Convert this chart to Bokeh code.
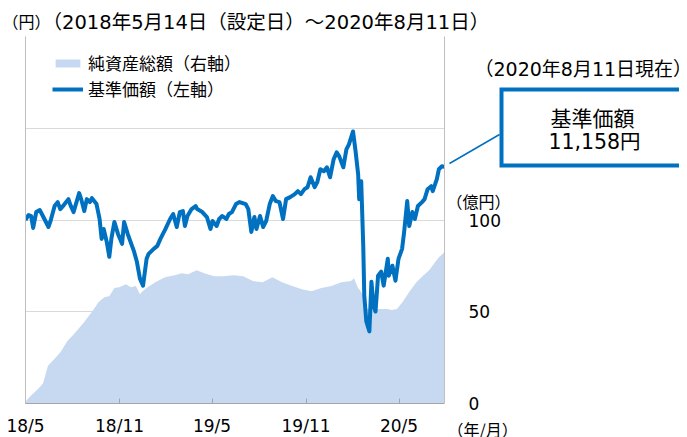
import pandas as pd
from bokeh.plotting import figure
from bokeh.layouts import column
from bokeh.models import (Range1d, LinearAxis, FixedTicker, NumeralTickFormatter,
                          Legend, LegendItem, Label, Arrow)
from bokeh.embed import file_html
from bokeh.resources import INLINE

# ---------------- data ----------------
nav_dates = [
    "2018-05-14", "2018-05-20", "2018-05-25", "2018-05-29", "2018-06-04", "2018-06-11",
    "2018-06-17", "2018-06-28", "2018-07-02", "2018-07-10", "2018-07-16", "2018-07-21",
    "2018-07-28", "2018-08-06", "2018-08-10", "2018-08-16", "2018-08-27", "2018-08-31",
    "2018-09-06", "2018-09-11", "2018-09-17", "2018-09-21", "2018-09-30", "2018-10-06",
    "2018-10-10", "2018-10-14", "2018-10-20", "2018-10-25", "2018-10-29", "2018-11-04",
    "2018-11-11", "2018-11-19", "2018-11-23", "2018-11-30", "2018-12-07", "2018-12-12",
    "2018-12-18", "2018-12-24", "2018-12-30", "2019-01-06", "2019-01-10", "2019-01-18",
    "2019-01-27", "2019-02-02", "2019-02-12", "2019-02-21", "2019-02-27", "2019-03-06",
    "2019-03-12", "2019-03-18", "2019-03-22", "2019-03-27", "2019-04-04", "2019-04-12",
    "2019-04-15", "2019-04-25", "2019-05-04", "2019-05-11", "2019-05-15", "2019-05-23",
    "2019-05-28", "2019-06-03", "2019-06-11", "2019-06-16", "2019-06-22", "2019-06-30",
    "2019-07-07", "2019-07-19", "2019-07-24", "2019-07-30", "2019-08-05", "2019-08-09",
    "2019-08-16", "2019-08-22", "2019-08-28", "2019-09-04", "2019-09-10", "2019-09-16",
    "2019-09-23", "2019-09-30", "2019-10-06", "2019-10-14", "2019-10-23", "2019-10-29",
    "2019-11-04", "2019-11-11", "2019-11-17", "2019-11-23", "2019-12-01", "2019-12-06",
    "2019-12-12", "2019-12-19", "2019-12-25", "2019-12-31", "2020-01-07", "2020-01-13",
    "2020-01-18", "2020-01-26", "2020-02-01", "2020-02-06", "2020-02-14", "2020-02-19",
    "2020-02-24", "2020-02-26", "2020-03-01", "2020-03-05", "2020-03-07", "2020-03-11",
    "2020-03-17", "2020-03-21", "2020-03-25", "2020-03-29", "2020-04-03", "2020-04-09",
    "2020-04-14", "2020-04-22", "2020-04-24", "2020-05-01", "2020-05-07", "2020-05-13",
    "2020-05-20", "2020-05-24", "2020-05-30", "2020-06-03", "2020-06-09", "2020-06-14",
    "2020-06-20", "2020-06-28", "2020-07-03", "2020-07-09", "2020-07-16", "2020-07-19",
    "2020-07-27", "2020-07-31", "2020-08-06", "2020-08-11",
]
nav_values = [
    10000, 10108, 10087, 9827, 10173, 10217,
    10087, 9848, 9978, 10304, 10390, 10238,
    10325, 10455, 10325, 10173, 10585, 10455,
    10195, 10455, 10390, 10477, 10347, 10022,
    9588, 9805, 9523, 9198, 9588, 9957,
    9696, 9480, 9957, 9696, 9480, 9328,
    9089, 8721, 8569, 9154, 9263, 9350,
    9436, 9588, 9805, 10022, 10130, 9848,
    10173, 10195, 9870, 10087, 10238, 10304,
    10238, 10173, 10065, 9805, 9978, 9870,
    10022, 10087, 10022, 10130, 10173, 10347,
    10390, 10347, 10238, 9740, 10065, 9805,
    10087, 9848, 9978, 10347, 10520, 10412,
    10390, 10022, 10455, 10499, 10564, 10629,
    10564, 10672, 10715, 10932, 10715, 10824,
    11106, 11062, 11149, 10932, 11322, 11474,
    11388, 11149, 11539, 11648, 11930, 11496,
    10997, 10455, 10846, 9436, 8352, 7789,
    7572, 8656, 8136, 8005, 8786, 8873,
    8569, 9154, 8786, 9003, 8677, 9154,
    9371, 9740, 10412, 9870, 10173, 10022,
    10304, 10390, 10455, 10672, 10737, 10629,
    10889, 11106, 11171, 11158,
]

aum_dates = [
    "2018-05-14", "2018-05-25", "2018-06-08", "2018-06-17", "2018-06-27", "2018-07-10",
    "2018-07-22", "2018-08-04", "2018-08-17", "2018-09-06", "2018-09-25", "2018-10-04",
    "2018-10-16", "2018-10-25", "2018-11-04", "2018-11-13", "2018-11-27", "2018-12-06",
    "2018-12-16", "2018-12-24", "2018-12-29", "2019-01-08", "2019-01-23", "2019-02-11",
    "2019-03-02", "2019-03-16", "2019-03-28", "2019-04-14", "2019-04-29", "2019-05-18",
    "2019-06-06", "2019-06-25", "2019-07-14", "2019-08-02", "2019-08-21", "2019-09-09",
    "2019-09-28", "2019-10-18", "2019-11-06", "2019-11-25", "2019-12-14", "2020-01-03",
    "2020-01-22", "2020-02-10", "2020-02-16", "2020-02-23", "2020-02-29", "2020-03-06",
    "2020-03-13", "2020-04-03", "2020-04-21", "2020-04-30", "2020-05-10", "2020-05-21",
    "2020-06-04", "2020-06-17", "2020-06-29", "2020-07-12", "2020-07-22", "2020-07-31",
    "2020-08-11",
]
aum_values = [
    1.1, 4.3, 8.1, 10.8, 20.6, 24.4,
    28.2, 34.1, 37.9, 44.4, 51.5, 55.3,
    58.0, 58.5, 62.9, 63.4, 65.0, 63.4,
    64.0, 59.6, 61.2, 63.4, 66.1, 68.8,
    69.9, 71.0, 70.5, 72.6, 71.0, 69.4,
    69.4, 69.9, 69.4, 66.7, 66.1, 68.8,
    66.1, 64.0, 62.3, 61.2, 62.9, 64.0,
    66.1, 66.7, 68.3, 63.4, 61.2, 58.0,
    51.5, 51.5, 51.5, 50.9, 51.5, 55.3,
    61.2, 66.1, 69.4, 72.6, 76.4, 79.7,
    82.4,
]

start_date = "2018-05-14"
end_date = "2020-08-11"
x_tick_dates = ["2018-05-14", "2018-11-14", "2019-05-14", "2019-11-14", "2020-05-14"]
x_tick_labels = ["18/5", "18/11", "19/5", "19/11", "20/5"]
left_ticks = [6000, 8000, 10000, 12000, 14000]
right_ticks = [0, 50, 100]

# ---------------- styling / layout ----------------
LINE = "#0070C0"
AREA = "#C6D9F0"
GRID = "#D9D9D9"
AXIS = "#BFBFBF"
FONT = "DejaVu Sans, Noto Sans CJK JP"
CJK = "Noto Sans CJK JP"

W, H = 742, 438          # canvas size (left part is pushed off-page like the reference crop)
BL, BR, BT = 82, 235, 36
FRAME_H = 369
BB = H - BT - FRAME_H


def ms(d):
    return int(pd.Timestamp(d).timestamp() * 1000)


X0, X1 = ms(start_date), ms(end_date)
Y0, Y1 = left_ticks[0], left_ticks[-1]

fig = figure(width=W, height=H, x_axis_type="datetime",
             output_backend="svg", toolbar_location=None,
             x_range=Range1d(X0, X1), y_range=Range1d(Y0, Y1),
             min_border_left=BL, min_border_right=BR,
             min_border_top=BT, min_border_bottom=BB,
             styles={"min-width": f"{W}px"})
fig.outline_line_color = None
fig.background_fill_color = "white"
fig.border_fill_color = "white"
fig.extra_y_ranges = {"right": Range1d(0, 200)}

area = fig.varea(x=pd.to_datetime(aum_dates), y1=0, y2=aum_values,
                 y_range_name="right", fill_color=AREA, fill_alpha=1.0)
line = fig.line(x=pd.to_datetime(nav_dates), y=nav_values,
                line_color=LINE, line_width=4, line_join="round")

xa = fig.xaxis[0]
xa.ticker = FixedTicker(ticks=[ms(d) for d in x_tick_dates])
xa.major_label_overrides = {ms(d): t for d, t in zip(x_tick_dates, x_tick_labels)}
xa.axis_line_color = "#A6A6A6"
xa.major_tick_line_color = "#A6A6A6"
xa.major_tick_in = 5
xa.major_tick_out = 0
xa.minor_tick_line_color = None
xa.major_label_standoff = 12
xa.major_label_text_font = FONT
xa.major_label_text_font_size = "17px"
xa.major_label_text_color = "black"

ya = fig.yaxis[0]
ya.ticker = FixedTicker(ticks=left_ticks)
ya.formatter = NumeralTickFormatter(format="0,0")
ya.axis_line_color = AXIS
ya.major_tick_line_color = None
ya.minor_tick_line_color = None
ya.major_label_standoff = 20
ya.major_label_text_font = FONT
ya.major_label_text_font_size = "17px"
ya.major_label_text_color = "black"

ra = LinearAxis(y_range_name="right", ticker=FixedTicker(ticks=right_ticks))
ra.axis_line_color = AXIS
ra.major_tick_line_color = None
ra.minor_tick_line_color = None
ra.major_label_standoff = 18
ra.major_label_text_font = FONT
ra.major_label_text_font_size = "17px"
ra.major_label_text_color = "black"
fig.add_layout(ra, "right")

fig.xgrid.grid_line_color = None
fig.ygrid.ticker = FixedTicker(ticks=left_ticks)
fig.ygrid.grid_line_color = GRID
fig.ygrid.grid_line_width = 1

legend = Legend(items=[LegendItem(label="純資産総額（右軸）", renderers=[area]),
                       LegendItem(label="基準価額（左軸）", renderers=[line])],
                location=(27, 302), margin=0, padding=0, spacing=1,
                glyph_width=31, glyph_height=10, label_height=20, label_standoff=5,
                label_text_font=CJK, label_text_font_size="17px",
                label_text_color="black",
                border_line_color=None, background_fill_alpha=0)
fig.add_layout(legend)

# ---------- transparent overlay that carries the free-floating texts ----------
# (annotations inside a Bokeh frame are clipped, so the notes live on a second,
#  full-canvas frame laid over the chart; its units are canvas pixels)
ov = figure(width=W, height=H, output_backend="svg", toolbar_location=None,
            x_range=Range1d(0, W), y_range=Range1d(H, 0),
            x_axis_location=None, y_axis_location=None,
            min_border=0, min_border_left=0, min_border_right=0,
            min_border_top=0, min_border_bottom=0,
            styles={"margin-top": f"-{H}px", "min-width": f"{W}px"})
ov.outline_line_color = None
ov.background_fill_alpha = 0
ov.border_fill_alpha = 0
ov.grid.visible = False
for f in (fig, ov):
    if hasattr(f, "frame_align"):
        f.frame_align = False
OFF = 55  # canvas x = page x + OFF


def note(x, y, text, font, size, align="left"):
    ov.add_layout(Label(x=x + OFF, y=y, text=text, text_font=font,
                        text_font_size=size, text_baseline="middle",
                        text_align=align, text_color="black"))


note(10, 20, "（円）", CJK, "16px")
note(50, 22, "（2018年5月14日（設定日）～2020年8月11日）", FONT, "19.5px")
note(486, 200, "（億円）", CJK, "16px", "center")
note(455, 428, "（年/月）", CJK, "16px")
note(482, 68, "（2020年8月11日現在）", FONT, "19px")

# call-out box: only top, left and bottom sides (the crop cuts off its right side)
ov.line(x=[W + 40, 509 + OFF, 509 + OFF, W + 40], y=[89, 89, 165, 165],
        line_color=LINE, line_width=4, line_join="miter")
ov.add_layout(Arrow(end=None, x_start=457 + OFF, y_start=163,
                    x_end=507 + OFF, y_end=134, line_color=LINE, line_width=1.5))

note(600, 116, "基準価額", CJK, "21px", "center")
note(602, 141, f"{nav_values[-1]:,}円", FONT, "20.5px", "center")

p = column(fig, ov, width=W, height=H,
           styles={"margin-left": "-63px", "margin-bottom": "-20px",
                   "min-width": f"{W}px"})
open("out.html", "w").write(file_html(p, INLINE))
